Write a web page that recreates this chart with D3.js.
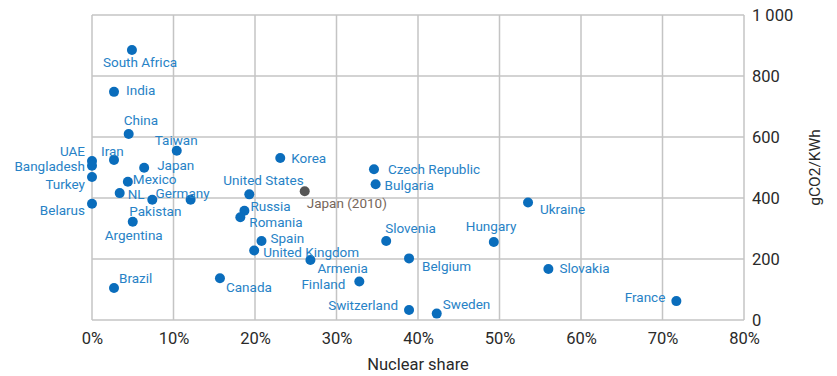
<!DOCTYPE html>
<html><head><meta charset="utf-8">
<script src="https://cdn.jsdelivr.net/npm/d3@7"></script>
<style>
body{margin:0;background:#fff;}
svg{display:block;}
</style></head>
<body><svg id="c" width="837" height="376"></svg>
<script>
const countries = ["South Africa","India","China","Taiwan","UAE","Iran","Bangladesh","Japan","Turkey","Mexico","NL","Germany","Belarus","Pakistan","Argentina","Brazil","Canada","United States","Russia","Romania","Spain","United Kingdom","Armenia","Finland","Switzerland","Sweden","Belgium","Slovenia","Hungary","Czech Republic","Bulgaria","Japan (2010)","Korea","Ukraine","Slovakia","France"];
const nuclearShare = [4.9,2.7,4.5,10.4,0,2.7,0,6.4,0,4.4,3.4,12.1,0,7.4,5.0,2.7,15.7,19.3,18.7,18.2,20.8,19.9,26.8,32.8,38.9,42.3,38.9,36.1,49.3,34.6,34.8,26.1,23.1,53.5,56.0,71.7];
const co2 = [885,748,610,555,521,525,506,499,469,453,416,394,381,394,322,105,137,412,358,337,259,228,197,126,33,21,202,259,256,494,445,422,531,385,167,62];
const xTicks = [0,10,20,30,40,50,60,70,80];
const yTicks = [0,200,400,600,800,1000];
const highlighted = ["Japan (2010)"];

// label placement: [dx, dy(baseline), anchor]
const labelPlacement = {
 "South Africa":[-29,17,"start"],"India":[12,3,"start"],"China":[-5,-9,"start"],"Taiwan":[-22,-6,"start"],
 "UAE":[-7,-5,"end"],"Iran":[-13,-4,"start"],"Bangladesh":[-7,5,"end"],"Japan":[13,2,"start"],
 "Turkey":[-7,12,"end"],"Mexico":[5,2,"start"],"NL":[8,6,"start"],"Germany":[-35,-2,"start"],
 "Belarus":[-7,11,"end"],"Pakistan":[-23,16,"start"],"Argentina":[-28,18,"start"],"Brazil":[5,-5,"start"],
 "Canada":[6,14,"start"],"United States":[-26,-9,"start"],"Russia":[6,0.5,"start"],"Romania":[9,9.5,"start"],
 "Spain":[9,1.5,"start"],"United Kingdom":[9,7,"start"],"Armenia":[7,13,"start"],"Finland":[-14,7,"end"],
 "Switzerland":[-11,0,"end"],"Sweden":[6,-5,"start"],"Belgium":[13,13,"start"],"Slovenia":[-1,-8,"start"],
 "Hungary":[-28,-11,"start"],"Czech Republic":[14,5,"start"],"Bulgaria":[9,6,"start"],"Japan (2010)":[2,17,"start"],
 "Korea":[11,5,"start"],"Ukraine":[12,11,"start"],"Slovakia":[11,4,"start"],"France":[-11,1,"end"]
};

const svg = d3.select("#c");
const x = d3.scaleLinear().domain([0,80]).range([92,744]);
const y = d3.scaleLinear().domain([0,1000]).range([320,15]);
const gridColor = "#c4c4c4";
const font = "Roboto, 'Liberation Sans', sans-serif";

const grid = svg.append("g");
grid.selectAll("line.v").data(xTicks).join("line")
  .attr("x1",d=>x(d)).attr("x2",d=>x(d)).attr("y1",y(0)).attr("y2",y(1000))
  .attr("stroke",gridColor).attr("stroke-width",1.5);
grid.selectAll("line.h").data(yTicks).join("line")
  .attr("y1",d=>y(d)).attr("y2",d=>y(d)).attr("x1",x(0)).attr("x2",x(80))
  .attr("stroke",gridColor).attr("stroke-width",1.5);

const fmt = d => d>=1000 ? d3.format(",")(d).replace(","," ") : String(d);
const yAxis = svg.append("g").attr("transform",`translate(${x(80)},0)`)
  .call(d3.axisRight(y).tickValues(yTicks).tickSize(0).tickPadding(8).tickFormat(fmt));
yAxis.select(".domain").remove();
yAxis.selectAll("text").attr("font-family",font).attr("font-size",16.5).attr("fill","#2a2a2a");

const xAxis = svg.append("g").attr("transform",`translate(0,${y(0)})`)
  .call(d3.axisBottom(x).tickValues(xTicks).tickSize(0).tickPadding(12).tickFormat(d=>d+"%"));
xAxis.select(".domain").remove();
xAxis.selectAll("text").attr("font-family",font).attr("font-size",16.5).attr("fill","#2a2a2a");

svg.append("text").attr("x",(x(0)+x(80))/2).attr("y",370).attr("text-anchor","middle")
  .attr("font-family",font).attr("font-size",16.5).attr("fill","#2a2a2a").text("Nuclear share");
svg.append("text").attr("transform",`translate(820,${y(500)}) rotate(-90)`).attr("text-anchor","middle")
  .attr("font-family",font).attr("font-size",15.5).attr("fill","#2a2a2a").text("gCO2/KWh");

const data = countries.map((c,i)=>({name:c, xv:nuclearShare[i], yv:co2[i], hl: highlighted.includes(c)}));

svg.append("g").selectAll("circle").data(data).join("circle")
  .attr("cx",d=>x(d.xv)).attr("cy",d=>y(d.yv)).attr("r",5)
  .attr("fill",d=>d.hl?"#555555":"#0a6dbc");

svg.append("g").selectAll("text").data(data).join("text")
  .attr("x",d=>x(d.xv)+labelPlacement[d.name][0])
  .attr("y",d=>y(d.yv)+labelPlacement[d.name][1])
  .attr("text-anchor",d=>labelPlacement[d.name][2])
  .attr("font-family",font).attr("font-size",13.5)
  .attr("fill",d=>d.hl?"#76665a":"#2782c6")
  .text(d=>d.name);
</script></body></html>
